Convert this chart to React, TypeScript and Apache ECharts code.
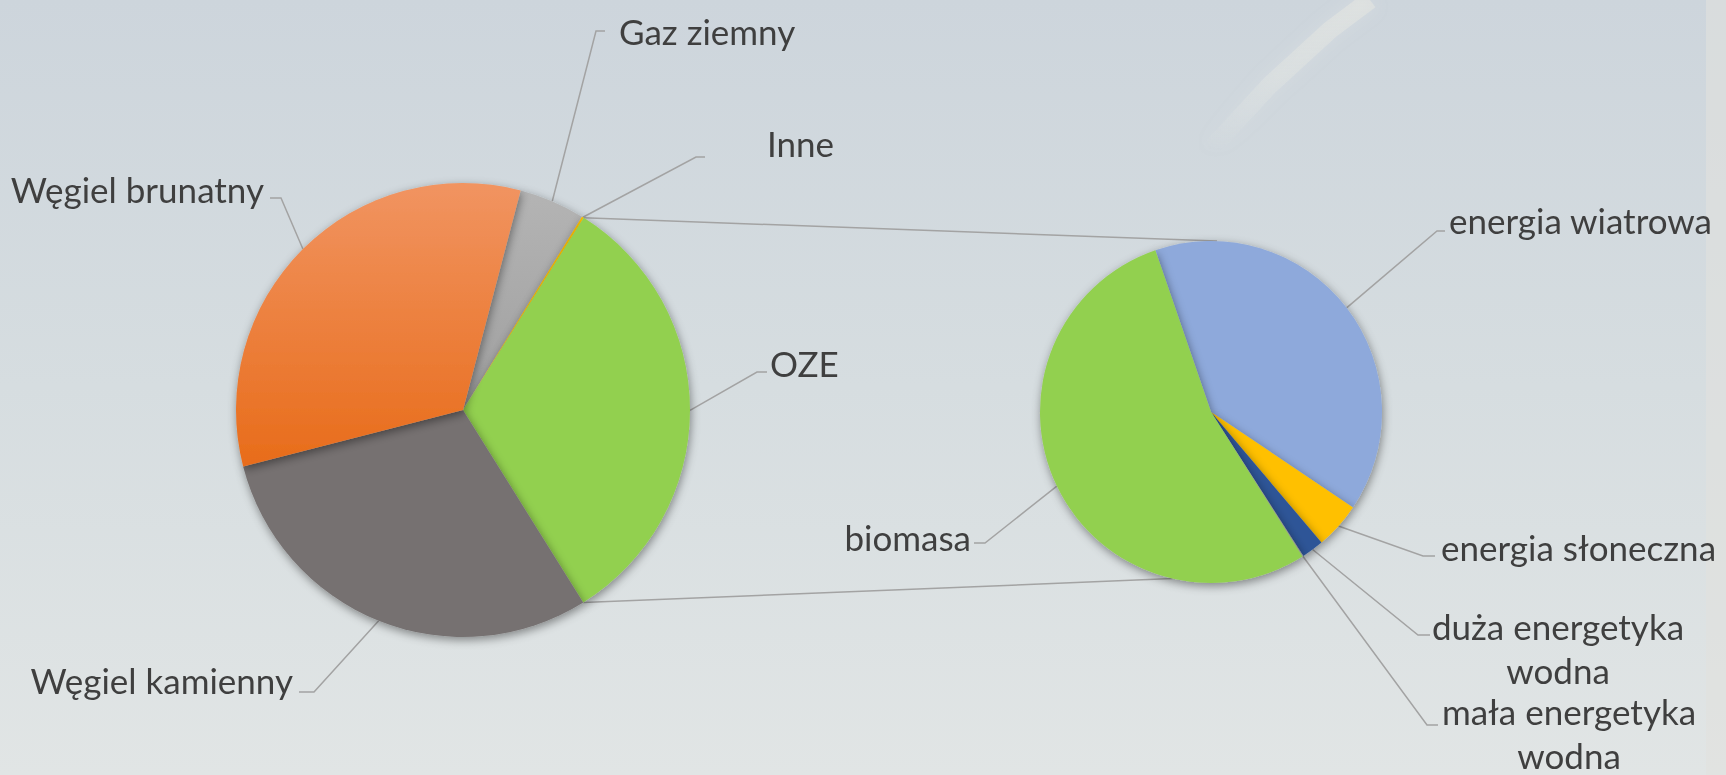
import React, { useEffect, useRef } from "react";
import * as echarts from "echarts";

// ---------- data ----------
const mainCategories = ["Gaz ziemny", "Inne", "OZE", "Węgiel kamienny", "Węgiel brunatny"];
const mainValues = [4.7, 0.15, 32.2, 29.9, 33.1];

const ozeCategories = [
  "energia wiatrowa",
  "energia słoneczna",
  "duża energetyka wodna",
  "mała energetyka wodna",
  "biomasa",
];
const ozeValues = [39.7, 4.4, 2.1, 0.1, 53.7];

// ---------- layout / style ----------
const W = 1726;
const H = 775;
const MAIN = { cx: 463, cy: 410, r: 227, startFromTop: 14.7 };
const SUB = { cx: 1211, cy: 412, r: 171, startFromTop: -19 };
const SUB_CONNECT_ANGLES = [2, 193];

const TEXT_COLOR = "#3f3f3f";
const LINE_COLOR = "#a3a3a3";
const FONT = "Lato, 'Noto Sans', sans-serif";
const FONT_SIZE = 35;

type Place = { bend: number[]; tick: number[]; x: number; y: number; align: "left" | "right" | "center" };

const mainLabelPlaces: Place[] = [
  { bend: [596, 31], tick: [605, 31], x: 619, y: 31, align: "left" },
  { bend: [696, 157], tick: [705, 157], x: 767, y: 143, align: "left" },
  { bend: [757, 372], tick: [767, 372], x: 770, y: 363, align: "left" },
  { bend: [314, 692], tick: [299, 692], x: 293, y: 680, align: "right" },
  { bend: [281, 198], tick: [270, 198], x: 264, y: 189, align: "right" },
];
const subLabelPlaces: Place[] = [
  { bend: [1437, 231], tick: [1445, 231], x: 1449, y: 220, align: "left" },
  { bend: [1423, 556], tick: [1435, 556], x: 1441, y: 547, align: "left" },
  { bend: [1418, 635], tick: [1430, 635], x: 1558, y: 648, align: "center" },
  { bend: [1427, 725], tick: [1438, 725], x: 1569, y: 733, align: "center" },
  { bend: [985, 543], tick: [974, 543], x: 971, y: 537, align: "right" },
];

const grad = (a: string, b: string) =>
  new echarts.graphic.LinearGradient(0, 0, 0, 1, [
    { offset: 0, color: a },
    { offset: 1, color: b },
  ]);

const mainColors = [
  grad("#b4b4b4", "#9f9f9f"),
  "#FFC000",
  "#92D050",
  "#767171",
  grad("#F19461", "#E86C1A"),
];
const ozeColors = ["#8EA9DB", "#FFC000", "#2F5597", "#A5A5A5", "#92D050"];

const sum = (a: number[]) => a.reduce((s, v) => s + v, 0);
const rad = (d: number) => (d * Math.PI) / 180;
const onCircle = (c: { cx: number; cy: number; r: number }, deg: number) => [
  c.cx + c.r * Math.sin(rad(deg)),
  c.cy - c.r * Math.cos(rad(deg)),
];

function makeLayout(places: Place[]) {
  return (params: any) => {
    const p = places[params.dataIndex];
    if (!p) return {};
    const start = params.labelLinePoints ? params.labelLinePoints[0] : p.bend;
    return {
      x: p.x,
      y: p.y,
      align: p.align,
      verticalAlign: "middle",
      labelLinePoints: [start, p.bend, p.tick],
    };
  };
}

const shadow = {
  shadowBlur: 10,
  shadowColor: "rgba(0,0,0,0.42)",
  shadowOffsetX: 1,
  shadowOffsetY: 3,
};

export default function App() {
  const ref = useRef<HTMLDivElement>(null);

  useEffect(() => {
    if (!ref.current) return;
    const chart = echarts.init(ref.current, undefined, { renderer: "svg" });

    const total = sum(mainValues);
    const ozeIdx = mainCategories.indexOf("OZE");
    const a0 = MAIN.startFromTop + (sum(mainValues.slice(0, ozeIdx)) / total) * 360;
    const a1 = a0 + (mainValues[ozeIdx] / total) * 360;
    const pTopMain = onCircle(MAIN, a0);
    const pBotMain = onCircle(MAIN, a1);
    const pTopSub = onCircle(SUB, SUB_CONNECT_ANGLES[0]);
    const pBotSub = onCircle(SUB, SUB_CONNECT_ANGLES[1]);

    const labelBase = {
      show: true,
      color: TEXT_COLOR,
      fontFamily: FONT,
      fontSize: FONT_SIZE,
      lineHeight: 44,
      formatter: (p: any) => String(p.name).replace(/ wodna$/, "\nwodna"),
    };
    const labelLineBase = {
      show: true,
      smooth: false,
      lineStyle: { color: LINE_COLOR, width: 1.5 },
    };

    chart.setOption({
      animation: false,
      backgroundColor: "transparent",
      graphic: [
        {
          type: "rect",
          z: -10,
          silent: true,
          shape: { x: 0, y: 0, width: W, height: H },
          style: {
            fill: new echarts.graphic.LinearGradient(0, 0, 0, 1, [
              { offset: 0, color: "#cdd5dc" },
              { offset: 0.5, color: "#d6dde0" },
              { offset: 1, color: "#e1e5e5" },
            ]),
          },
        },
        {
          type: "rect",
          z: -9,
          silent: true,
          shape: { x: W - 20, y: 0, width: 20, height: H },
          style: { fill: "rgba(225,225,222,0.6)" },
        },
        {
          type: "polyline",
          z: -8,
          silent: true,
          shape: { points: [[1210, 150], [1270, 85], [1330, 30], [1370, 0]] },
          style: {
            stroke: new echarts.graphic.LinearGradient(0, 1, 0, 0, [
              { offset: 0, color: "rgba(235,236,232,0)" },
              { offset: 0.5, color: "rgba(235,236,228,0.3)" },
              { offset: 1, color: "rgba(238,236,226,0.4)" },
            ]),
            lineWidth: 18,
            fill: null,
            shadowBlur: 14,
            shadowColor: "rgba(240,240,235,0.5)",
          },
        },
        {
          type: "line",
          z: 1,
          silent: true,
          shape: { x1: pTopMain[0], y1: pTopMain[1], x2: pTopSub[0], y2: pTopSub[1] },
          style: { stroke: LINE_COLOR, lineWidth: 1.5 },
        },
        {
          type: "line",
          z: 1,
          silent: true,
          shape: { x1: pBotMain[0], y1: pBotMain[1], x2: pBotSub[0], y2: pBotSub[1] },
          style: { stroke: LINE_COLOR, lineWidth: 1.5 },
        },
      ],
      series: [
        {
          type: "pie",
          center: [MAIN.cx, MAIN.cy],
          radius: MAIN.r,
          startAngle: 90 - MAIN.startFromTop,
          clockwise: true,
          avoidLabelOverlap: false,
          silent: true,
          itemStyle: { borderWidth: 0, ...shadow },
          label: labelBase,
          labelLine: labelLineBase,
          labelLayout: makeLayout(mainLabelPlaces),
          data: mainCategories.map((name, i) => ({
            name,
            value: mainValues[i],
            itemStyle: { color: mainColors[i] },
          })),
        },
        {
          type: "pie",
          center: [SUB.cx, SUB.cy],
          radius: SUB.r,
          startAngle: 90 - SUB.startFromTop,
          clockwise: true,
          avoidLabelOverlap: false,
          silent: true,
          itemStyle: { borderWidth: 0, ...shadow },
          label: labelBase,
          labelLine: labelLineBase,
          labelLayout: makeLayout(subLabelPlaces),
          data: ozeCategories.map((name, i) => ({
            name,
            value: ozeValues[i],
            itemStyle: { color: ozeColors[i] },
          })),
        },
      ],
    });

    return () => chart.dispose();
  }, []);

  return (
    <div
      ref={ref}
      style={{ position: "fixed", left: 0, top: 0, width: W, height: H }}
    />
  );
}
